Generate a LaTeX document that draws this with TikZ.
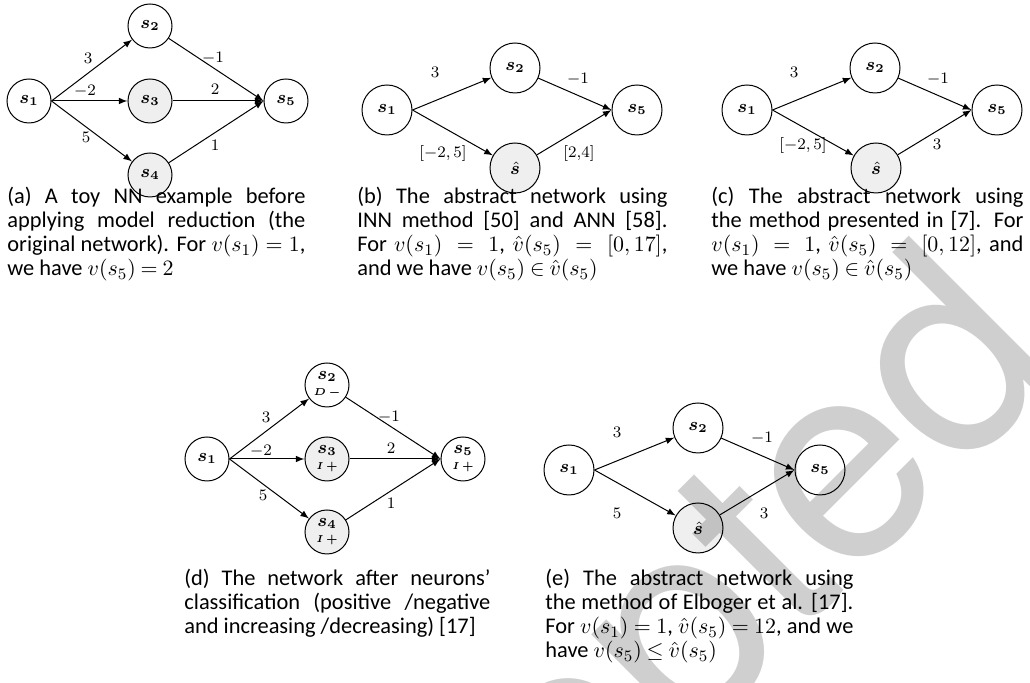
\documentclass[tikz,border=0pt]{standalone}
\usepackage{amsmath,bm}
\usepackage{fontspec}
\newfontfamily\capfont{Carlito}
\newfontfamily\wmfont{TeX Gyre Heros}
\definecolor{hidgray}{HTML}{EFEFEF}
\newcommand\capsize{\fontsize{11.2}{12}\capfont\thickmuskip=4mu plus 10mu\relax\medmuskip=3mu plus 4mu\relax}
\begin{document}
\begin{tikzpicture}[x=0.5pt,y=-0.5pt,
  nrn/.style={circle,draw,line width=0.5pt,minimum size=22pt,inner sep=0pt,font=\small},
  nrnb/.style={nrn,minimum size=25pt},
  hid/.style={fill=hidgray},
  wt/.style={font=\footnotesize,inner sep=0pt},
  conn/.style={-latex,line width=0.5pt},
  capt/.style={anchor=north west,inner sep=0pt,align=justify,font=\capsize}]
\useasboundingbox (0,0) rectangle (1030,683);

% (a) the original network
\node[nrn] (a1) at (29,101) {$\bm{s_1}$};
\node[nrn] (a2) at (150,26) {$\bm{s_2}$};
\node[nrn,hid] (a3) at (150,101) {$\bm{s_3}$};
\node[nrn,hid] (a4) at (150,175) {$\bm{s_4}$};
\node[nrn] (a5) at (286,101) {$\bm{s_5}$};
\draw[conn] (a1.east) -- (a2);
\draw[conn] (a1.east) -- (a3);
\draw[conn] (a1.east) -- (a4);
\draw[conn] (a2) -- (a5.west);
\draw[conn] (a3) -- (a5.west);
\draw[conn] (a4) -- (a5.west);
\node[wt] (aw12) at (88,58) {$3$};
\node[wt] (aw13) at (85,91) {$-2$};
\node[wt] (aw14) at (86,137) {$5$};
\node[wt] (aw25) at (213,58) {$-1$};
\node[wt] (aw35) at (215,89) {$2$};
\node[wt] (aw45) at (215,145) {$1$};
\node[capt,text width=149pt] (acap) at (7,187) {(a) A toy NN example before\linebreak applying model reduction (the\linebreak original network). For $v(s_1) = 1$,\linebreak we have $v(s_5) = 2$};

% (b) INN and ANN
\node[nrnb] (b1) at (387,110) {$\bm{s_1}$};
\node[nrnb] (b2) at (515,68) {$\bm{s_2}$};
\node[nrnb,hid] (bh) at (515,168) {$\bm{\hat{s}}$};
\node[nrnb] (b5) at (637,110) {$\bm{s_5}$};
\draw[conn] (b1.east) -- (b2);
\draw[conn] (b1.east) -- (bh);
\draw[conn] (b2) -- (b5.west);
\draw[conn] (bh) -- (b5.west);
\node[wt] (bw12) at (435,72) {$3$};
\node[wt] (bw25) at (578,79) {$-1$};
\node[wt] (bw1h) at (443,154) {$[-2,5]$};
\node[wt] (bwh5) at (579,154) {[2,4]};
\node[capt,text width=155pt] (bcap) at (357,187) {(b) The abstract network using\linebreak INN method [50] and ANN [58].\linebreak For $v(s_1) = 1$, $\hat{v}(s_5) = [0,17]$,\linebreak and we have $v(s_5) \in \hat{v}(s_5)$};

% (c) method of [7]
\node[nrnb] (c1) at (747,110) {$\bm{s_1}$};
\node[nrnb] (c2) at (875,68) {$\bm{s_2}$};
\node[nrnb,hid] (ch) at (876,168) {$\bm{\hat{s}}$};
\node[nrnb] (c5) at (997,110) {$\bm{s_5}$};
\draw[conn] (c1.east) -- (c2);
\draw[conn] (c1.east) -- (ch);
\draw[conn] (c2) -- (c5.west);
\draw[conn] (ch) -- (c5.west);
\node[wt] (cw12) at (794,72) {$3$};
\node[wt] (cw25) at (938,79) {$-1$};
\node[wt] (cw1h) at (803,146) {$[-2,5]$};
\node[wt] (cwh5) at (937,144) {$3$};
\node[capt,text width=156pt] (ccap) at (711,187) {(c) The abstract network using\linebreak the method presented in [7]. For\linebreak $v(s_1) = 1$, $\hat{v}(s_5) = [0,12]$, and\linebreak we have $v(s_5) \in \hat{v}(s_5)$};

% (d) classified neurons
\node[nrn] (d1) at (207,459) {$\bm{s_1}$};
\node[nrn,align=center] (d2) at (327,385) {$\bm{s_2}$\\[-3pt]{\tiny$\bm{D\,-}$}};
\node[nrn,hid,align=center] (d3) at (327,459) {$\bm{s_3}$\\[-3pt]{\tiny$\bm{I\,+}$}};
\node[nrn,hid,align=center] (d4) at (327,532) {$\bm{s_4}$\\[-3pt]{\tiny$\bm{I\,+}$}};
\node[nrn,align=center] (d5) at (463,459) {$\bm{s_5}$\\[-3pt]{\tiny$\bm{I\,+}$}};
\draw[conn] (d1.east) -- (d2);
\draw[conn] (d1.east) -- (d3);
\draw[conn] (d1.east) -- (d4);
\draw[conn] (d2) -- (d5.west);
\draw[conn] (d3) -- (d5.west);
\draw[conn] (d4) -- (d5.west);
\node[wt] (dw12) at (266,417) {$3$};
\node[wt] (dw13) at (261,451) {$-2$};
\node[wt] (dw14) at (263,495) {$5$};
\node[wt] (dw25) at (389,417) {$-1$};
\node[wt] (dw35) at (391,448) {$2$};
\node[wt] (dw45) at (391,503) {$1$};
\node[capt,text width=153pt] (dcap) at (184,569) {(d) The network after neurons’\linebreak classification (positive /negative\linebreak and increasing /decreasing) [17]};

% (e) Elboger et al.
\node[nrnb] (e1) at (569,470) {$\bm{s_1}$};
\node[nrnb] (e2) at (698,428) {$\bm{s_2}$};
\node[nrnb,hid] (eh) at (698,528) {$\bm{\hat{s}}$};
\node[nrnb] (e5) at (820,470) {$\bm{s_5}$};
\draw[conn] (e1.east) -- (e2);
\draw[conn] (e1.east) -- (eh);
\draw[conn] (e2) -- (e5.west);
\draw[conn] (eh) -- (e5.west);
\node[wt] (ew12) at (617,432) {$3$};
\node[wt] (ew25) at (762,438) {$-1$};
\node[wt] (ew1h) at (617,513) {$5$};
\node[wt] (ewh5) at (764,513) {$3$};
\node[capt,text width=154pt] (ecap) at (545,569) {(e) The abstract network using\linebreak the method of Elboger et al. [17].\linebreak For $v(s_1) = 1$, $\hat{v}(s_5) = 12$, and we\linebreak have $v(s_5) \leq \hat{v}(s_5)$};

% watermark
\begin{scope}
\clip (0,0) rectangle (1030,683);
\node[rotate=45,text=black,text opacity=0.19,font=\fontsize{140}{140}\wmfont] (wm) at (605,728) {Accepted};
\end{scope}
\end{tikzpicture}
\end{document}
